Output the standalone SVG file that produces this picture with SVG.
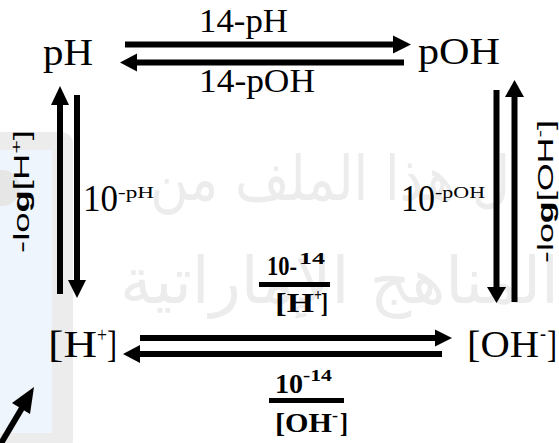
<svg xmlns="http://www.w3.org/2000/svg" width="559" height="443" viewBox="0 0 559 443">
<style>
.t{font-family:"Liberation Serif","Times New Roman",serif;fill:#000}
.b{font-weight:bold}
.s{font-family:"Liberation Sans",Arial,sans-serif;fill:#000}
.ln{stroke:#000;stroke-width:6;fill:none}
.hd{fill:#000}
.wm{font-family:"DejaVu Sans",sans-serif;fill:#ececec}
</style>
<rect width="559" height="443" fill="#fff"/>
<g id="watermark">
<rect x="-10" y="132" width="83" height="320" rx="12" fill="#ececec"/>
<rect x="0" y="150" width="52" height="283" fill="#eff5fc"/>
<circle cx="2" cy="188" r="18" fill="#e6e6e6"/>
<text class="wm" x="150" y="200" font-size="62" textLength="360" lengthAdjust="spacingAndGlyphs">ل هذا الملف من</text>
<text class="wm" x="120" y="303" font-size="64" textLength="439" lengthAdjust="spacingAndGlyphs">المناهج الإماراتية</text>
<g id="corner-arrow">
<line x1="0" y1="445" x2="22" y2="408" stroke="#000" stroke-width="6"/>
<polygon points="34,387 12,403 30,414" fill="#000"/>
</g>
</g>
<g id="connectors">
<line class="ln" x1="125" y1="44.5" x2="395" y2="44.5"/>
<polygon class="hd" points="411,44.5 393,35.5 393,53.5"/>
<line class="ln" x1="404" y1="62.5" x2="135" y2="62.5"/>
<polygon class="hd" points="120,62.5 137,53.5 137,71.5"/>
<line class="ln" x1="140" y1="338" x2="437" y2="338"/>
<polygon class="hd" points="452,338 435,329.5 435,346.5"/>
<line class="ln" x1="442" y1="354" x2="138" y2="354"/>
<polygon class="hd" points="123,354 140,345 140,363"/>
<line class="ln" x1="60" y1="294" x2="60" y2="103"/>
<polygon class="hd" points="60,86 51,105 69,105"/>
<line class="ln" x1="77" y1="95" x2="77" y2="282"/>
<polygon class="hd" points="77,298 68,280 86,280"/>
<line class="ln" x1="496.5" y1="90" x2="496.5" y2="289"/>
<polygon class="hd" points="496.5,303 487,287 506,287"/>
<line class="ln" x1="514.5" y1="302" x2="514.5" y2="95"/>
<polygon class="hd" points="514.5,80 505,97 524,97"/>
</g>
<g id="label-14-pH"><text class="t" x="199" y="32" font-size="34" textLength="89" lengthAdjust="spacingAndGlyphs">14-pH</text></g>
<g id="label-14-pOH"><text class="t" x="199" y="92" font-size="34" textLength="116" lengthAdjust="spacingAndGlyphs">14-pOH</text></g>
<g id="node-pH"><text class="t" x="43" y="65" font-size="38" textLength="50" lengthAdjust="spacingAndGlyphs">pH</text></g>
<g id="node-pOH"><text class="t" x="418" y="64" font-size="38" textLength="82" lengthAdjust="spacingAndGlyphs">pOH</text></g>
<g id="label-10-pH">
<text class="t" x="83" y="211" font-size="38" textLength="35" lengthAdjust="spacingAndGlyphs">10</text>
<text class="t" x="118" y="198" font-size="17" textLength="36" lengthAdjust="spacingAndGlyphs">-pH</text>
</g>
<g id="label-10-pOH">
<text class="t" x="401" y="211" font-size="38" textLength="34" lengthAdjust="spacingAndGlyphs">10</text>
<text class="t" x="435" y="198" font-size="17" textLength="50" lengthAdjust="spacingAndGlyphs">-pOH</text>
</g>
<g id="node-H">
<text class="t" x="48" y="357" font-size="38" textLength="49" lengthAdjust="spacingAndGlyphs">[H</text>
<text class="t" x="97" y="342" font-size="20" textLength="10" lengthAdjust="spacingAndGlyphs">+</text>
<text class="t" x="107" y="357" font-size="38" textLength="10" lengthAdjust="spacingAndGlyphs">]</text>
</g>
<g id="node-OH">
<text class="t" x="467" y="357" font-size="38" textLength="72" lengthAdjust="spacingAndGlyphs">[OH</text>
<text class="t" x="540" y="340" font-size="20" textLength="6" lengthAdjust="spacingAndGlyphs">-</text>
<text class="t" x="547" y="357" font-size="38" textLength="10" lengthAdjust="spacingAndGlyphs">]</text>
</g>
<g id="label-log-H">
<text class="s" transform="translate(29,253) rotate(-90)" font-size="22" textLength="123" lengthAdjust="spacingAndGlyphs">-lo<tspan font-weight="bold">g</tspan>[H<tspan font-size="14" dy="-8">+</tspan><tspan dy="8">]</tspan></text>
</g>
<g id="label-log-OH">
<text class="s" transform="translate(553,263) rotate(-90)" font-size="22" textLength="143" lengthAdjust="spacingAndGlyphs">-lo<tspan font-weight="bold">g</tspan>[OH<tspan font-size="14" dy="-8">-</tspan><tspan dy="8">]</tspan></text>
</g>
<g id="label-frac-H">
<text class="t b" x="267" y="275" font-size="27" textLength="30" lengthAdjust="spacingAndGlyphs">10-</text>
<text class="t b" x="299" y="264" font-size="16" textLength="26" lengthAdjust="spacingAndGlyphs">14</text>
<rect x="259" y="282" width="71" height="5" fill="#000"/>
<text class="t b" x="275" y="312" font-size="28" textLength="39" lengthAdjust="spacingAndGlyphs">[H</text>
<text class="t b" x="314" y="301" font-size="16" textLength="8" lengthAdjust="spacingAndGlyphs">+</text>
<text class="t b" x="321" y="312" font-size="28" textLength="7" lengthAdjust="spacingAndGlyphs">]</text>
</g>
<g id="label-frac-OH">
<text class="t b" x="275" y="393" font-size="27" textLength="28" lengthAdjust="spacingAndGlyphs">10</text>
<text class="t b" x="303" y="381" font-size="16" textLength="29" lengthAdjust="spacingAndGlyphs">-14</text>
<rect x="269" y="398" width="75" height="5" fill="#000"/>
<text class="t b" x="275" y="432" font-size="28" textLength="57" lengthAdjust="spacingAndGlyphs">[OH</text>
<text class="t b" x="332" y="421" font-size="16" textLength="6" lengthAdjust="spacingAndGlyphs">-</text>
<text class="t b" x="340" y="432" font-size="28" textLength="8" lengthAdjust="spacingAndGlyphs">]</text>
</g>
</svg>
